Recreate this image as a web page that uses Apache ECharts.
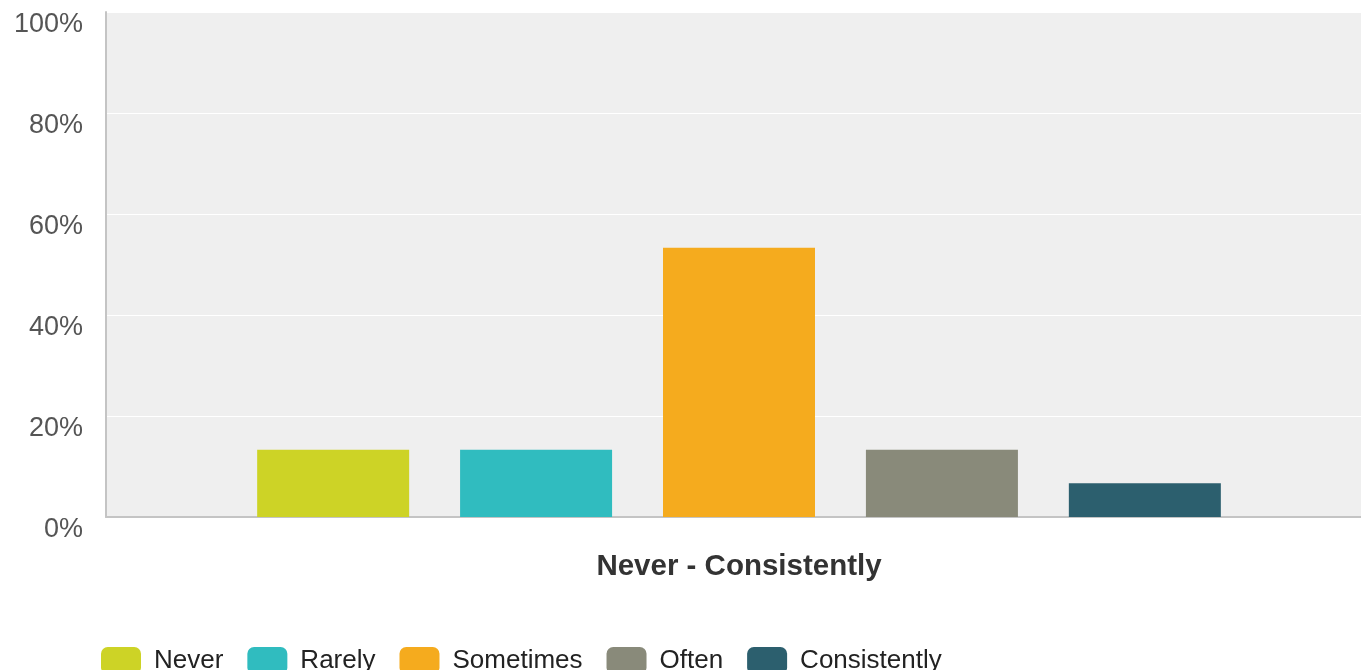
<!DOCTYPE html>
<html>
<head>
<meta charset="utf-8">
<script src="https://cdn.jsdelivr.net/npm/echarts@6/dist/echarts.min.js"></script>
<style>
html,body{margin:0;padding:0;background:#fff;overflow:hidden;}
#chart{width:1361px;height:670px;}
</style>
</head>
<body>
<div id="chart"></div>
<script>
const categories = ['Never - Consistently'];
const seriesNames = ['Never', 'Rarely', 'Sometimes', 'Often', 'Consistently'];
const seriesValues = [13.33, 13.33, 53.33, 13.33, 6.67];
const seriesColors = ['#cdd326', '#30bcbf', '#f5ab1e', '#898a7a', '#2c5f6e'];
const yTicks = [0, 20, 40, 60, 80, 100];

const chart = echarts.init(document.getElementById('chart'));
const font = '"Liberation Sans", Arial, sans-serif';

const series = seriesNames.map((name, i) => ({
  name: name,
  type: 'bar',
  data: [seriesValues[i]],
  barWidth: 152,
  barGap: '33.5%',
  itemStyle: { color: seriesColors[i] },
  emphasis: { disabled: true }
}));

chart.setOption({
  animation: false,
  backgroundColor: '#ffffff',
  textStyle: { fontFamily: font },
  grid: {
    left: 106, width: 1266, top: 12, height: 505,
    outerBoundsMode: 'none',
    containLabel: false,
    show: true, backgroundColor: '#efefef', borderWidth: 0
  },
  legend: {
    left: 96, top: 642,
    itemWidth: 40, itemHeight: 27, itemGap: 24,
    icon: 'roundRect',
    textStyle: { fontSize: 26, color: '#222', fontFamily: font, padding: [0, 0, 0, 8] },
    data: seriesNames
  },
  xAxis: {
    type: 'category',
    data: categories,
    axisLine: { show: true, lineStyle: { color: '#c4c4c4', width: 2 } },
    axisTick: { show: false },
    axisLabel: {
      margin: 35, fontSize: 29.5, fontWeight: 'bold', color: '#333', fontFamily: font
    }
  },
  yAxis: {
    type: 'value',
    min: 0, max: 100, interval: 20,
    axisLine: { show: true, lineStyle: { color: '#c4c4c4', width: 2 } },
    axisTick: { show: false },
    splitLine: { show: true, lineStyle: { color: '#ffffff', width: 1 } },
    axisLabel: {
      margin: 23, fontSize: 27, color: '#555', fontFamily: font,
      verticalAlign: 'top', lineHeight: 26,
      formatter: v => yTicks.includes(v) ? v + '%' : ''
    }
  },
  series: series
});
</script>
</body>
</html>
